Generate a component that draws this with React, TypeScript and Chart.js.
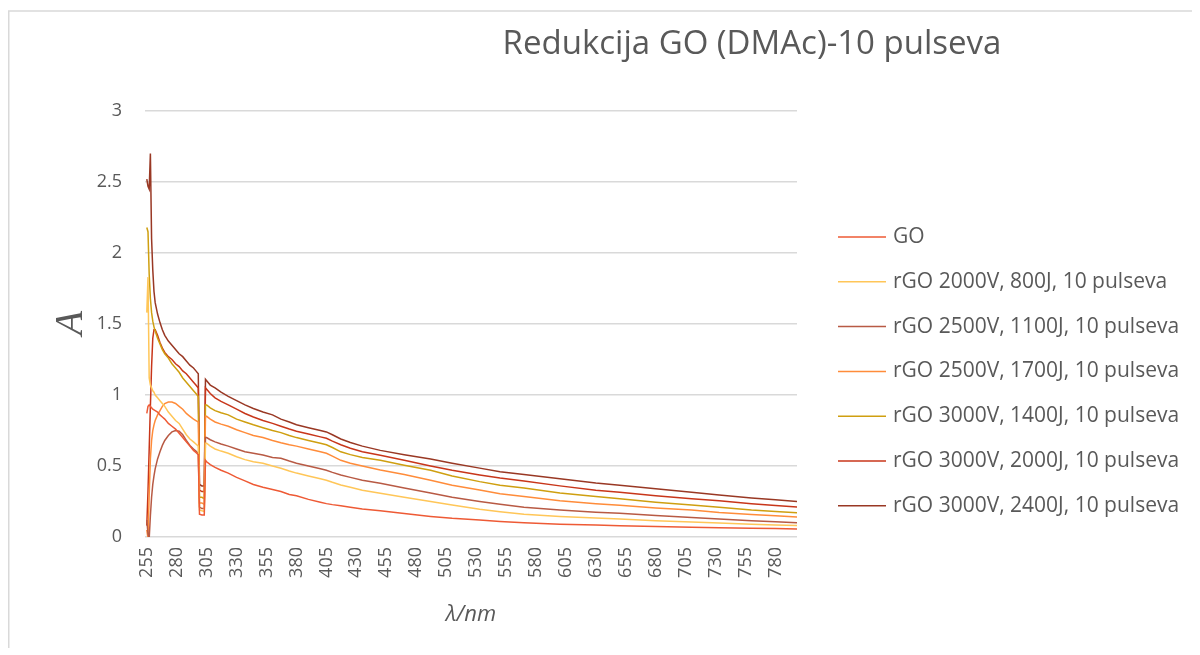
import React, { useEffect, useRef } from 'react';
import { Chart, registerables } from 'chart.js';

Chart.register(...registerables);

const chartTitle = 'Redukcija GO (DMAc)-10 pulseva';
const xAxisTitle = 'λ/nm';
const yAxisTitle = 'A';

const wavelengths = [
  255, 256, 257, 258, 259, 260, 261, 262,
  264, 266, 268, 270,
  273, 276, 279, 282, 285, 288, 291, 294, 296, 298,
  299, 301, 303, 304, 305,
  308, 312, 317, 323, 330, 337, 344, 352, 360, 367, 374, 380,
  390, 400, 405, 410, 417, 425, 435, 450, 470, 492, 510, 533,
  550, 570, 600, 630, 650, 680, 710, 733, 760, 780, 800,
];

const xTickValues = [255, 280, 305, 330, 355, 380, 405, 430, 455, 480, 505, 530, 555, 580, 605, 630, 655, 680, 705, 730, 755, 780];

const seriesLabels = [
  'GO',
  'rGO 2000V, 800J, 10 pulseva',
  'rGO 2500V, 1100J, 10 pulseva',
  'rGO 2500V, 1700J, 10 pulseva',
  'rGO 3000V, 1400J, 10 pulseva',
  'rGO 3000V, 2000J, 10 pulseva',
  'rGO 3000V, 2400J, 10 pulseva',
];

const goValues = [
  0.87, 0.92, 0.93, 0.92, 0.91, 0.90, 0.895, 0.89,
  0.88, 0.86, 0.845, 0.83,
  0.80, 0.78, 0.76, 0.73, 0.70, 0.67, 0.64, 0.61, 0.595, 0.58,
  0.16, 0.155, 0.155, 0.54, 0.53,
  0.51, 0.49, 0.47, 0.45, 0.42, 0.395, 0.37, 0.35, 0.335, 0.32, 0.30, 0.29,
  0.265, 0.245, 0.235, 0.228, 0.22, 0.21, 0.198, 0.185, 0.165, 0.145, 0.132, 0.12,
  0.11, 0.10, 0.09, 0.084, 0.08, 0.074, 0.069, 0.066, 0.062, 0.059, 0.056,
];

const rgo2000v800j = [
  1.58, 1.83, 1.12, 1.07, 1.05, 1.03, 1.02, 1.00,
  0.98, 0.96, 0.94, 0.92,
  0.88, 0.85, 0.82, 0.80, 0.76, 0.72, 0.69, 0.67, 0.655, 0.64,
  0.19, 0.185, 0.18, 0.66, 0.66,
  0.64, 0.62, 0.605, 0.59, 0.565, 0.545, 0.53, 0.52, 0.50, 0.484, 0.465, 0.45,
  0.43, 0.41, 0.40, 0.385, 0.366, 0.35, 0.33, 0.308, 0.28, 0.25, 0.225, 0.195,
  0.178, 0.16, 0.145, 0.133, 0.127, 0.115, 0.105, 0.099, 0.09, 0.085, 0.08,
];

const rgo2500v1100j = [
  0.12, 0.02, -0.01, 0.15, 0.28, 0.37, 0.43, 0.48,
  0.55, 0.60, 0.645, 0.68,
  0.715, 0.74, 0.75, 0.745, 0.72, 0.68, 0.645, 0.62, 0.605, 0.59,
  0.21, 0.20, 0.20, 0.70, 0.70,
  0.685, 0.67, 0.655, 0.64, 0.62, 0.60, 0.59, 0.577, 0.56, 0.554, 0.535, 0.52,
  0.50, 0.48, 0.47, 0.455, 0.437, 0.42, 0.40, 0.378, 0.345, 0.31, 0.28, 0.25,
  0.23, 0.21, 0.19, 0.175, 0.167, 0.152, 0.138, 0.127, 0.115, 0.107, 0.10,
];

const rgo2500v1700j = [
  0.05, -0.01, 0.30, 0.55, 0.68, 0.75, 0.79, 0.82,
  0.86, 0.89, 0.92, 0.94,
  0.95, 0.95, 0.94, 0.92, 0.90, 0.87, 0.85, 0.83, 0.82, 0.81,
  0.24, 0.24, 0.23, 0.85, 0.85,
  0.83, 0.81, 0.795, 0.78, 0.755, 0.735, 0.715, 0.70, 0.68, 0.664, 0.65, 0.64,
  0.62, 0.60, 0.59, 0.57, 0.54, 0.52, 0.50, 0.472, 0.44, 0.40, 0.365, 0.331,
  0.305, 0.285, 0.255, 0.235, 0.223, 0.205, 0.19, 0.172, 0.158, 0.15, 0.14,
];

const rgo3000v1400j = [
  2.18, 2.15, 1.85, 1.68, 1.58, 1.52, 1.48, 1.45,
  1.40, 1.36, 1.32, 1.29,
  1.26, 1.22, 1.19, 1.16, 1.12, 1.09, 1.06, 1.03, 1.01, 0.99,
  0.28, 0.28, 0.27, 0.93, 0.93,
  0.91, 0.89, 0.875, 0.86, 0.83, 0.81, 0.79, 0.77, 0.75, 0.735, 0.715, 0.70,
  0.68, 0.66, 0.65, 0.63, 0.60, 0.58, 0.56, 0.54, 0.505, 0.47, 0.43, 0.39,
  0.365, 0.345, 0.31, 0.285, 0.27, 0.245, 0.225, 0.21, 0.19, 0.18, 0.17,
];

const rgo3000v2000j = [
  0.08, 0.32, 0.62, 0.92, 1.20, 1.40, 1.46, 1.46,
  1.42, 1.37, 1.33, 1.30,
  1.27, 1.25, 1.22, 1.20, 1.17, 1.15, 1.12, 1.09, 1.07, 1.05,
  0.33, 0.32, 0.32, 1.05, 1.04,
  1.01, 0.98, 0.955, 0.93, 0.90, 0.87, 0.845, 0.82, 0.80, 0.78, 0.76, 0.745,
  0.725, 0.705, 0.695, 0.675, 0.65, 0.625, 0.60, 0.575, 0.54, 0.50, 0.47, 0.437,
  0.415, 0.395, 0.36, 0.33, 0.315, 0.29, 0.27, 0.255, 0.235, 0.222, 0.21,
];

const rgo3000v2400j = [
  2.52, 2.47, 2.45, 2.70, 2.10, 1.88, 1.73, 1.65,
  1.57, 1.51, 1.46, 1.42,
  1.38, 1.35, 1.32, 1.29, 1.27, 1.24, 1.21, 1.19, 1.17, 1.15,
  0.37, 0.36, 0.36, 1.11, 1.10,
  1.07, 1.05, 1.02, 0.99, 0.96, 0.93, 0.905, 0.88, 0.86, 0.83, 0.81, 0.79,
  0.77, 0.75, 0.74, 0.72, 0.69, 0.665, 0.64, 0.61, 0.58, 0.55, 0.52, 0.485,
  0.46, 0.44, 0.41, 0.38, 0.365, 0.34, 0.315, 0.295, 0.275, 0.262, 0.248,
];

const seriesColors = ['#EE5A35', '#FFC658', '#B85A44', '#FF8C3A', '#CF9F10', '#C8361A', '#993824'];

const textColor = '#595959';

const decorPlugin = {
  id: 'decor',
  afterDraw(chart: any) {
    const c = chart.ctx as CanvasRenderingContext2D;
    const area = chart.chartArea;
    c.save();
    // outer frame (top + left visible)
    c.strokeStyle = '#d9d9d9';
    c.lineWidth = 1.5;
    c.beginPath();
    c.moveTo(0.75, chart.height);
    c.lineTo(0.75, 3);
    c.lineTo(chart.width, 3);
    c.stroke();

    // title
    c.fillStyle = textColor;
    c.textAlign = 'center';
    c.textBaseline = 'middle';
    c.font = '33px "Open Sans"';
    c.fillText(chartTitle, 744, 37);

    // y title
    c.save();
    c.translate(63, 315);
    c.rotate(-Math.PI / 2);
    c.font = 'italic 40px "Liberation Serif"';
    c.fillText(yAxisTitle, 0, 0);
    c.restore();

    // x title
    c.font = 'italic 22px "Open Sans"';
    c.fillText(xAxisTitle, (area.left + area.right) / 2, 607);

    // legend
    c.font = '21px "Open Sans"';
    c.textAlign = 'left';
    chart.data.datasets.forEach((ds: any, i: number) => {
      const y = 229 + i * 44.8;
      c.strokeStyle = ds.borderColor;
      c.lineWidth = 1.5;
      c.beginPath();
      c.moveTo(830, y);
      c.lineTo(878, y);
      c.stroke();
      c.fillStyle = textColor;
      c.fillText(ds.label, 885, y);
    });
    c.restore();
  },
};

export default function App() {
  const ref = useRef<HTMLCanvasElement>(null);
  useEffect(() => {
    const canvas = ref.current;
    if (!canvas) return;
    const series = [goValues, rgo2000v800j, rgo2500v1100j, rgo2500v1700j, rgo3000v1400j, rgo3000v2000j, rgo3000v2400j];
    const chart = new Chart(canvas, {
      type: 'line',
      data: {
        datasets: series.map((vals, i) => ({
          label: seriesLabels[i],
          data: wavelengths.map((x, j) => ({ x, y: vals[j] })),
          borderColor: seriesColors[i],
          backgroundColor: seriesColors[i],
          borderWidth: 1.5,
          pointRadius: 0,
          tension: 0,
          fill: false,
        })),
      },
      options: {
        animation: false,
        responsive: true,
        maintainAspectRatio: false,
        layout: { padding: { left: 77, right: 395, top: 103, bottom: 51 } },
        plugins: {
          legend: { display: false },
          title: { display: false },
          tooltip: { enabled: false },
        },
        scales: {
          x: {
            type: 'linear',
            min: 253.5,
            max: 798,
            afterFit: (s: any) => { s.height = 60; },
            afterBuildTicks: (s: any) => { s.ticks = xTickValues.map((v) => ({ value: v })); },
            grid: { display: false, drawTicks: false },
            border: { display: false },
            ticks: {
              autoSkip: false,
              minRotation: 90,
              maxRotation: 90,
              padding: 10,
              color: textColor,
              font: { family: 'Open Sans', size: 18 },
              callback: (v: any) => String(v),
            },
          },
          y: {
            min: 0,
            max: 3,
            afterFit: (s: any) => { s.width = 60; },
            grid: { color: '#d9d9d9', lineWidth: 1.5, drawTicks: false },
            border: { display: false },
            ticks: {
              stepSize: 0.5,
              padding: 23,
              color: textColor,
              font: { family: 'Open Sans', size: 18 },
              callback: (v: any) => String(v),
            },
          },
        },
      },
      plugins: [decorPlugin],
    });
    return () => chart.destroy();
  }, []);
  return (
    <div style={{ width: 1184, height: 640 }}>
      <canvas ref={ref} />
    </div>
  );
}
